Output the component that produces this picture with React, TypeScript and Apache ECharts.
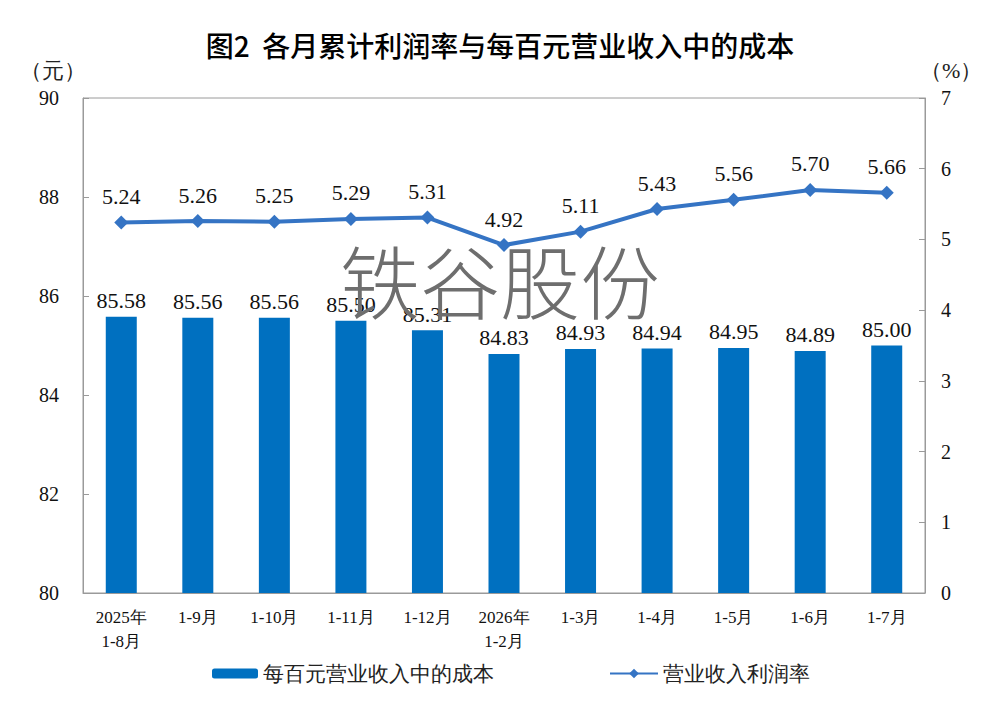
import { useEffect, useRef } from "react";
import * as echarts from "echarts";

const categories = [
  "2025年\n1-8月",
  "1-9月",
  "1-10月",
  "1-11月",
  "1-12月",
  "2026年\n1-2月",
  "1-3月",
  "1-4月",
  "1-5月",
  "1-6月",
  "1-7月",
];
const costPerHundred = [85.58, 85.56, 85.56, 85.5, 85.31, 84.83, 84.93, 84.94, 84.95, 84.89, 85.0];
const profitRate = [5.24, 5.26, 5.25, 5.29, 5.31, 4.92, 5.11, 5.43, 5.56, 5.7, 5.66];

const SERIF = "Liberation Serif";
const SANS = "Noto Sans CJK SC";
const BAR_COLOR = "#0070C0";
const LINE_COLOR = "#3574C4";
const GRAY = "#9a9a9a";

export default function App() {
  const ref = useRef<HTMLDivElement | null>(null);

  useEffect(() => {
    if (!ref.current) return;
    const chart = echarts.init(ref.current, null, { renderer: "svg" });
    chart.setOption({
      animation: false,
      backgroundColor: "#fff",
      textStyle: { fontFamily: SERIF },
      title: {
        text: "图2  各月累计利润率与每百元营业收入中的成本",
        left: "center",
        top: 26,
        textStyle: { fontFamily: SANS, fontSize: 28, fontWeight: 500, color: "#000" },
      },
      graphic: [
        {
          type: "text",
          left: 20,
          top: 59,
          style: { text: "（元）", fontFamily: SERIF, fontSize: 22, fill: "#222" },
        },
        {
          type: "text",
          left: 920,
          top: 59,
          style: { text: "（%）", fontFamily: SERIF, fontSize: 22, fill: "#222" },
        },
        {
          type: "text",
          left: "center",
          top: 238,
          z: 100,
          style: {
            text: "铁谷股份",
            fontFamily: SANS,
            fontWeight: 300,
            fontSize: 80,
            fill: "#6e6e6e",
          },
        },
      ],
      legend: [
        {
          data: ["每百元营业收入中的成本"],
          left: 207,
          top: 658,
          itemWidth: 46,
          itemHeight: 10,
          textStyle: { fontFamily: SERIF, fontSize: 21, color: "#222" },
        },
        {
          data: ["营业收入利润率"],
          left: 604,
          top: 658,
          itemWidth: 48,
          itemHeight: 12,
          textStyle: { fontFamily: SERIF, fontSize: 21, color: "#222" },
        },
      ],
      grid: {
        left: 83,
        right: 75,
        top: 98,
        bottom: 122,
        show: true,
        borderColor: GRAY,
        borderWidth: 1,
      },
      xAxis: {
        type: "category",
        data: categories,
        axisLine: { lineStyle: { color: GRAY } },
        axisTick: { inside: true, length: 5, lineStyle: { color: GRAY } },
        axisLabel: {
          fontFamily: SERIF,
          fontSize: 17,
          color: "#111",
          lineHeight: 24,
          margin: 12,
          interval: 0,
        },
      },
      yAxis: [
        {
          type: "value",
          min: 80,
          max: 90,
          interval: 2,
          splitLine: { show: false },
          axisLine: { show: true, lineStyle: { color: GRAY } },
          axisTick: { show: true, inside: true, length: 6, lineStyle: { color: GRAY } },
          axisLabel: { fontFamily: SERIF, fontSize: 20, color: "#111", margin: 24 },
        },
        {
          type: "value",
          min: 0,
          max: 7,
          interval: 1,
          splitLine: { show: false },
          axisLine: { show: true, lineStyle: { color: GRAY } },
          axisTick: { show: true, inside: true, length: 6, lineStyle: { color: GRAY } },
          axisLabel: { fontFamily: SERIF, fontSize: 20, color: "#111", margin: 16 },
        },
      ],
      series: [
        {
          name: "每百元营业收入中的成本",
          type: "bar",
          yAxisIndex: 0,
          data: costPerHundred,
          barWidth: 31,
          itemStyle: { color: BAR_COLOR },
          label: {
            show: true,
            position: "top",
            distance: 5,
            formatter: (p: any) => Number(p.value).toFixed(2),
            fontFamily: SERIF,
            fontSize: 22,
            color: "#111",
          },
        },
        {
          name: "营业收入利润率",
          type: "line",
          yAxisIndex: 1,
          data: profitRate,
          symbol: "diamond",
          symbolSize: 14,
          lineStyle: { color: LINE_COLOR, width: 4 },
          itemStyle: { color: LINE_COLOR },
          label: {
            show: true,
            position: "top",
            distance: 8,
            formatter: (p: any) => Number(p.value).toFixed(2),
            fontFamily: SERIF,
            fontSize: 22,
            color: "#111",
          },
        },
      ],
    });
    return () => chart.dispose();
  }, []);

  return <div ref={ref} style={{ width: 1000, height: 715, margin: -8 }} />;
}
